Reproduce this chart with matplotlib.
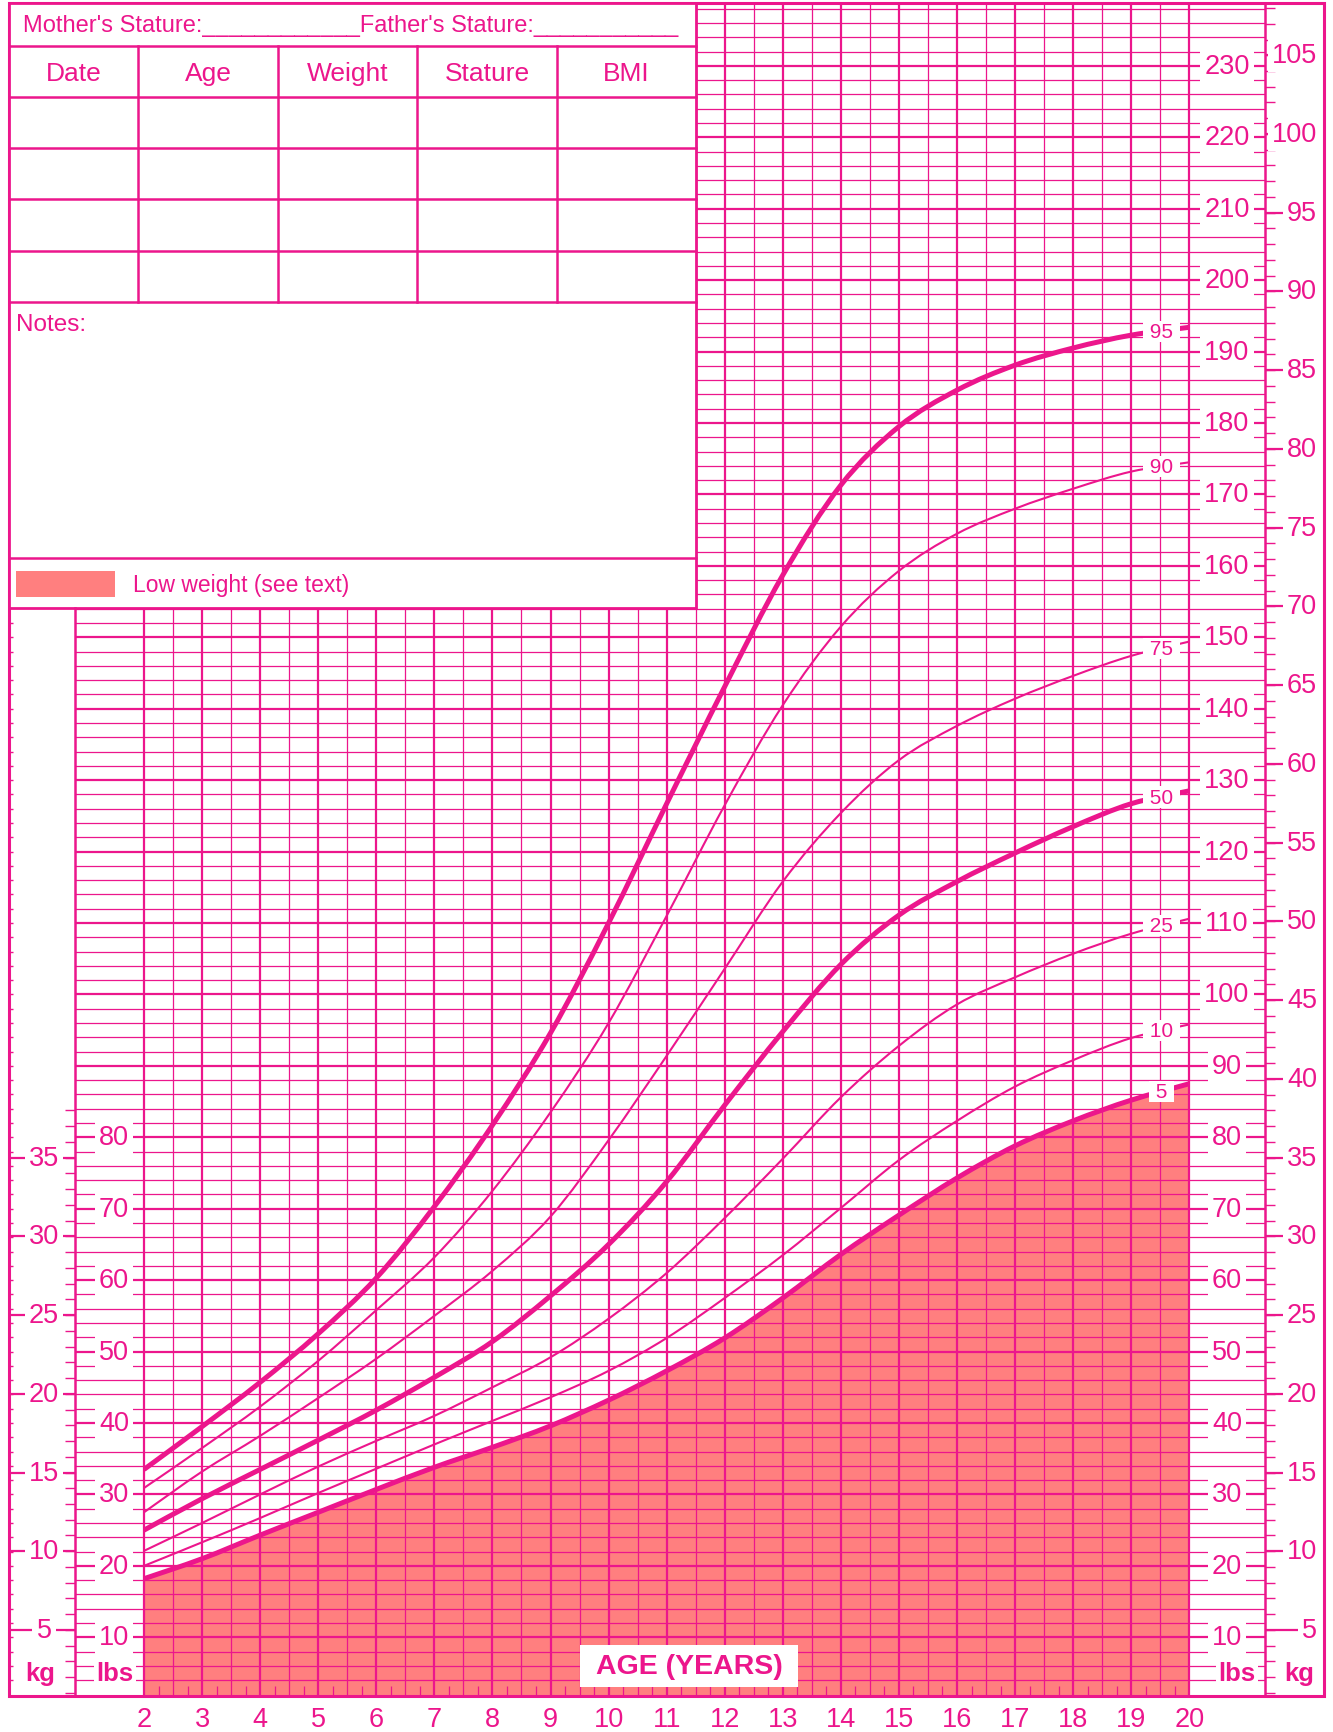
import numpy as np
import matplotlib
matplotlib.use("Agg")
import matplotlib.pyplot as plt
from matplotlib.transforms import blended_transform_factory as blend
from matplotlib.patches import Rectangle, PathPatch
from matplotlib.path import Path

plt.rcParams["font.family"] = ["Liberation Sans", "DejaVu Sans"]

PINK = "#EC168C"
SALMON = "#FF7F7F"

# weight-for-age percentiles (lbs)
ages = [2, 3, 4, 5, 6, 7, 8, 9, 10, 11, 12, 13, 14, 15, 16, 17, 18, 19, 20]
p5 = [18.2, 21.0, 24.3, 27.5, 30.7, 33.8, 36.6, 39.6, 43.2, 47.3, 51.9, 57.5, 63.6, 69.1, 74.3, 78.8, 82.3, 85.2, 87.5]
p10 = [20.0, 23.3, 26.7, 30.2, 33.6, 37.0, 40.3, 43.6, 47.3, 51.9, 57.5, 63.5, 70.1, 76.8, 82.3, 87.1, 90.8, 93.9, 95.8]
p25 = [22.1, 26.0, 30.0, 33.9, 37.5, 41.0, 45.0, 49.2, 54.6, 61.0, 68.7, 77.0, 85.6, 92.8, 98.6, 102.4, 105.7, 108.5, 110.6]
p50 = [25.0, 29.4, 33.5, 37.6, 41.8, 46.4, 51.4, 57.8, 65.0, 73.8, 84.5, 94.8, 104.2, 111.1, 115.8, 119.8, 123.5, 126.7, 128.5]
p75 = [27.5, 33.2, 38.2, 43.5, 49.0, 55.0, 61.3, 68.9, 79.6, 91.4, 103.6, 115.8, 125.4, 132.8, 137.6, 141.4, 144.6, 147.4, 149.4]
p90 = [30.9, 36.5, 42.3, 48.7, 55.8, 63.2, 72.5, 83.5, 96.0, 111.0, 126.5, 140.5, 151.5, 159.3, 164.5, 168.0, 170.8, 173.2, 174.5]
p95 = [33.5, 39.5, 45.7, 52.5, 60.3, 70.3, 81.7, 94.6, 110.0, 126.7, 143.1, 158.7, 171.3, 179.5, 184.6, 188.1, 190.5, 192.3, 193.4]

curves = [("5", p5, True), ("10", p10, False), ("25", p25, False), ("50", p50, True),
          ("75", p75, False), ("90", p90, False), ("95", p95, True)]

age_ticks = list(range(2, 21))
lbs_left = [10, 20, 30, 40, 50, 60, 70, 80]
lbs_right = list(range(10, 231, 10))
kg_left = [5, 10, 15, 20, 25, 30, 35]
kg_right = list(range(5, 106, 5))
headers = ["Date", "Age", "Weight", "Stature", "BMI"]

LB_PER_KG = 2.20462
YMIN, YMAX = 1.78, 238.8


def smooth_path(xs, ys):
    # Catmull-Rom through the read points, drawn as cubic Bezier segments
    p = np.column_stack([xs, ys]).astype(float)
    ext = np.vstack([p[0], p, p[-1]])
    verts = [p[0]]
    codes = [Path.MOVETO]
    for i in range(len(p) - 1):
        a, b, c, d = ext[i], ext[i + 1], ext[i + 2], ext[i + 3]
        verts += [b + (c - a) / 6, c - (d - b) / 6, c]
        codes += [Path.CURVE4] * 3
    return verts, codes


fig = plt.figure(figsize=(13.33, 17.33), dpi=100)
W, H = 1333, 1733

# pixel overlay for the form layout
pax = fig.add_axes([0, 0, 1, 1], zorder=2)
pax.set_xlim(0, W)
pax.set_ylim(H, 0)
pax.axis("off")

# chart axes: age (years) vs weight (lbs)
ax = fig.add_axes([144 / W, (H - 1697) / H, 1045.3 / W, 1693 / H], zorder=1)
ax.axis("off")

px_lbs = blend(pax.transData, ax.transData)
age_px = blend(ax.transData, pax.transData)

# grid: horizontal every 2 lbs, heavier every 10
minor = np.arange(4, 239, 2)
heavy = minor[minor % 10 == 0]
light = minor[minor % 10 != 0]
ax.hlines(light, 75, 1265, transform=px_lbs, color=PINK, lw=0.9, zorder=2, clip_on=False)
ax.hlines(heavy, 75, 1265, transform=px_lbs, color=PINK, lw=1.6, zorder=2, clip_on=False)
ax.hlines(minor[minor < 154], 9, 13, transform=px_lbs, color=PINK, lw=1.0, clip_on=False)

half = np.arange(2.5, 20, 1.0)
ax.vlines(half, YMIN, YMAX, color=PINK, lw=0.9, zorder=2)
ax.vlines(age_ticks, YMIN, YMAX, color=PINK, lw=1.6, zorder=2, clip_on=False)
quarter = np.arange(2.25, 20, 0.5)
ax.vlines(quarter, YMIN, YMIN + 1.4, color=PINK, lw=0.9, zorder=2)

# low weight zone under the 5th percentile
v, c = smooth_path(ages, p5)
fill_verts = [(ages[0], YMIN)] + v + [(ages[-1], YMIN), (ages[0], YMIN)]
fill_codes = [Path.MOVETO, Path.LINETO] + c[1:] + [Path.LINETO, Path.CLOSEPOLY]
ax.add_patch(PathPatch(Path(fill_verts, fill_codes), fc=SALMON, ec="none", zorder=1))

for lab, vals, bold in curves:
    v, c = smooth_path(ages, vals)
    ax.add_patch(PathPatch(Path(v, c), fill=False, ec=PINK, lw=3.6 if bold else 1.5,
                           zorder=3, capstyle="butt", joinstyle="round"))
    y = np.interp(19.52, ages, vals)
    ax.text(19.52, y, " %s " % lab, ha="center", va="center", fontsize=15, color=PINK, zorder=6,
            bbox=dict(fc="white", ec="none", boxstyle="square,pad=0.05"))

box = dict(fc="white", ec="none", boxstyle="square,pad=0.15")
FS = 19.5

# lbs scales
for v in lbs_left:
    ax.text(114, v, str(v), transform=px_lbs, ha="center", va="center", fontsize=FS,
            color=PINK, zorder=6, bbox=box)
for v in lbs_right:
    ax.text(1227, v, str(v), transform=px_lbs, ha="center", va="center", fontsize=FS,
            color=PINK, zorder=6, bbox=box)

# kg scales
kg_all = np.arange(1, 109)
ax.hlines(kg_all * LB_PER_KG, 1265, 1275, transform=px_lbs, color=PINK, lw=1.0, clip_on=False)
ax.hlines(np.array(kg_right) * LB_PER_KG, 1265, 1300, transform=px_lbs, color=PINK, lw=1.6, clip_on=False)
for v in kg_right:
    ax.text(1317, v * LB_PER_KG, str(v), transform=px_lbs, ha="right", va="center", fontsize=FS,
            color=PINK, zorder=6, bbox=box)

kg_l = np.arange(1, 39)
ax.hlines(kg_l * LB_PER_KG, 65, 75, transform=px_lbs, color=PINK, lw=1.0, clip_on=False)
ax.hlines(np.array(kg_left) * LB_PER_KG, 9, 75, transform=px_lbs, color=PINK, lw=1.6, clip_on=False)
for v in kg_left:
    ax.text(44, v * LB_PER_KG, str(v), transform=px_lbs, ha="center", va="center", fontsize=FS,
            color=PINK, zorder=6, bbox=box)

# age axis
for a in age_ticks:
    ax.text(a, 1720, str(a), transform=age_px, ha="center", va="center", fontsize=FS, color=PINK)

ax.set_xlim(2, 20)
ax.set_ylim(YMIN, YMAX)

# ---- form overlay ----
pax.add_patch(Rectangle((580, 1646), 218, 42, fc="white", ec="none"))
pax.text(689, 1667, "AGE (YEARS)", ha="center", va="center", fontsize=20.5,
         fontweight="bold", color=PINK)
for x, s in [(40, "kg"), (115, "lbs"), (1237, "lbs"), (1299, "kg")]:
    pax.text(x, 1674, s, ha="center", va="center", fontsize=18.5, fontweight="bold", color=PINK,
             bbox=dict(fc="white", ec="none", boxstyle="square,pad=0.1"))

# separators and border
pax.plot([75, 75], [609, 1697], color=PINK, lw=1.8)
pax.plot([1265, 1265], [4, 1697], color=PINK, lw=1.8)
pax.add_patch(Rectangle((9, 4), 1315, 1693, fc="none", ec=PINK, lw=2.2))

# table
pax.add_patch(Rectangle((9, 4), 687, 605, fc="white", ec=PINK, lw=2.0))
rows = [46.7, 97.7, 149, 200, 251.7, 302.7, 558.7]
for y in rows:
    pax.plot([9, 696], [y, y], color=PINK, lw=1.8)
cols = [9, 138.4, 277.7, 417.4, 556.7, 696]
for x in cols[1:-1]:
    pax.plot([x, x], [46.7, 302.7], color=PINK, lw=1.8)
for i, h in enumerate(headers):
    pax.text((cols[i] + cols[i + 1]) / 2, 74, h, ha="center", va="center", fontsize=19, color=PINK)

pax.text(23, 26, "Mother's Stature:" + "_" * 12 + "Father's Stature:" + "_" * 11,
         ha="left", va="center", fontsize=17, color=PINK)
pax.text(16, 325, "Notes:", ha="left", va="center", fontsize=17.5, color=PINK)
pax.add_patch(Rectangle((16, 572), 99, 26, fc=SALMON, ec="none"))
pax.text(133, 585, "Low weight (see text)", ha="left", va="center", fontsize=16.5, color=PINK)

fig.savefig("out.png", dpi=100)
